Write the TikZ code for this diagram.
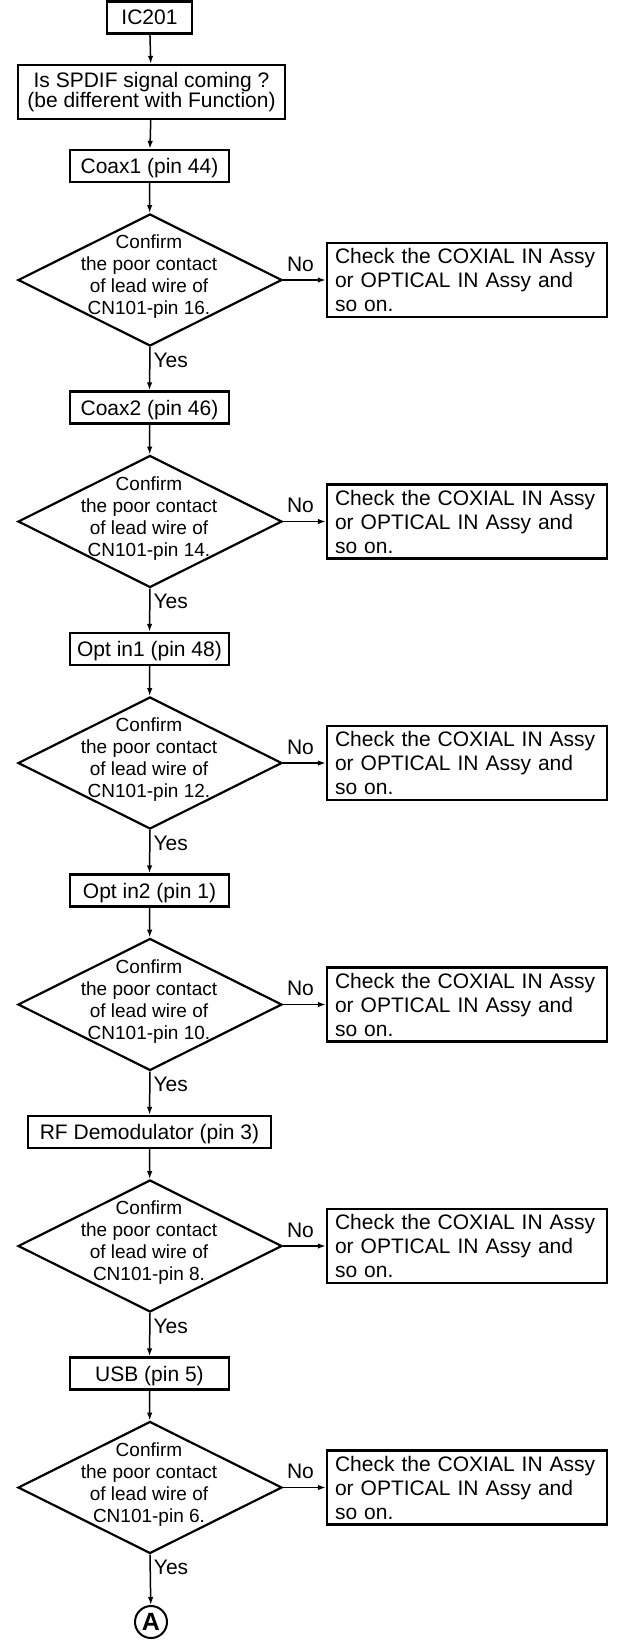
\documentclass[tikz,border=0pt]{standalone}
\usepackage{fontspec}
\setmainfont{Liberation Sans}
\usetikzlibrary{arrows.meta,shapes.geometric,positioning}

\begin{document}
\begin{tikzpicture}[x=1pt,y=-1pt,
    stepbox/.style={draw,line width=2.3pt,inner sep=2pt,minimum height=32pt,
      text height=15pt,text depth=0pt,font=\fontsize{21}{24}\selectfont},
    askbox/.style={draw,line width=2.3pt,inner sep=2pt,minimum width=267pt,
      minimum height=54pt,align=center,font=\fontsize{21}{20}\selectfont},
    checkbox/.style={draw,line width=2.3pt,inner xsep=8pt,inner ysep=2pt,
      minimum width=280pt,minimum height=74pt,text width=264pt,align=left,
      font=\fontsize{21}{24}\selectfont},
    decide/.style={draw,diamond,line width=2.2pt,minimum width=264pt,
      minimum height=132pt,inner sep=0pt},
    decidetext/.style={align=center,inner sep=0pt,font=\fontsize{19}{22}\selectfont},
    flow/.style={-{Latex[length=8pt,width=5.5pt]},line width=1.5pt},
    lbl/.style={inner sep=3pt,font=\fontsize{21}{24}\selectfont}]
  \useasboundingbox (0,0) rectangle (618,1640);

  \node[stepbox,minimum width=85pt] (ic) at (149.5,17.5) {IC201};
  \node[askbox] (spdif) at (151.5,92) {Is SPDIF signal coming ?\\(be different with Function)};
  \draw[flow] (ic) -- (spdif);

  \foreach \i/\src/\bw/\pin in {0/Coax1 (pin 44)/159/16,1/Coax2 (pin 46)/159/14,
      2/Opt in1 (pin 48)/159/12,3/Opt in2 (pin 1)/159/10,
      4/RF Demodulator (pin 3)/243/8,5/USB (pin 5)/159/6}{
    \pgfmathsetmacro{\yb}{166+241.5*\i}
    \pgfmathsetmacro{\yd}{280+241.5*\i}
    \node[stepbox,minimum width=\bw pt] (src\i) at (149.5,\yb) {\src};
    \node[decide] (dec\i) at (150,\yd) {};
    \node[decidetext] (dtx\i) at (149,\yd-3) {Confirm\\the poor contact\\of lead wire of\\CN101-pin \pin.};
    \node[checkbox] (chk\i) at (467,\yd) {Check the COXIAL IN Assy\\or OPTICAL IN Assy and\\so on.};
    \draw[flow] (src\i) -- (dec\i);
    \draw[flow] (dec\i.east) -- node[lbl,above=5pt,xshift=-4pt]{No} (chk\i.west);
  }
  \draw[flow] (spdif) -- (src0);

  \foreach \i [evaluate=\i as \n using int(\i+1)] in {0,...,4}
    \draw[flow] (dec\i.south) -- node[lbl,right,pos=0.3]{Yes} (src\n.north);

  \node[circle,draw,line width=2pt,minimum size=32pt,inner sep=0pt,
    font=\bfseries\fontsize{25}{25}\selectfont] (endA) at (151,1622) {A};
  \draw[flow] (dec5.south) -- node[lbl,right,pos=0.26]{Yes} (endA);
\end{tikzpicture}
\end{document}
